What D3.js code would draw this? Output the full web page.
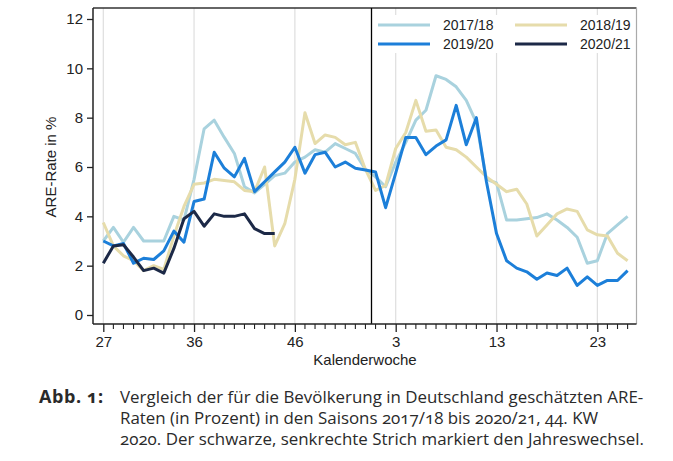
<!DOCTYPE html>
<html><head><meta charset="utf-8">
<script src="https://cdn.jsdelivr.net/npm/d3@7"></script>
<style>
html,body{margin:0;padding:0;background:#fff;}
svg{display:block;}
</style></head>
<body>
<svg id="chart" width="673" height="461"></svg>
<script>
// weeks of the season (index order)
const weeks = [27,28,29,30,31,32,33,34,35,36,37,38,39,40,41,42,43,44,45,46,47,48,49,50,51,52,53,
               1,2,3,4,5,6,7,8,9,10,11,12,13,14,15,16,17,18,19,20,21,22,23,24,25,26];
const tickWeeks = [27,36,46,3,13,23];
const yTicks = [0,2,4,6,8,10,12];
const seriesNames = ["2017/18","2018/19","2019/20","2020/21"];
const seriesColors = ["#a9d2de","#e6dcab","#1c7fd9","#1c2947"];

const s1718 = [3.0,3.55,2.95,3.55,3.0,3.0,3.0,4.0,3.85,5.5,7.55,7.9,7.2,6.55,5.2,4.95,5.3,5.65,5.75,6.2,6.4,6.7,6.6,6.95,6.75,6.55,5.9,
               5.6,5.2,6.2,7.0,7.9,8.3,9.7,9.55,9.25,8.7,7.8,5.5,5.35,3.85,3.85,3.9,3.95,4.1,3.85,3.55,3.15,2.1,2.2,3.3,3.65,4.0];
const s1819 = [3.75,2.8,2.4,2.2,1.8,2.0,1.85,3.2,4.4,5.3,5.35,5.5,5.45,5.4,5.05,5.0,6.0,2.8,3.7,5.5,8.2,6.95,7.3,7.2,6.9,7.0,5.9,
               5.05,5.25,6.75,7.4,8.7,7.45,7.5,6.8,6.7,6.4,6.0,5.6,5.3,5.0,5.1,4.5,3.2,3.65,4.1,4.3,4.2,3.45,3.25,3.2,2.5,2.2];
const s1920 = [3.0,2.8,2.9,2.1,2.3,2.25,2.6,3.4,2.95,4.6,4.7,6.6,5.95,5.6,6.35,5.0,5.4,5.8,6.2,6.8,5.75,6.5,6.6,6.0,6.2,5.95,5.88,
               5.8,4.35,5.75,7.2,7.2,6.5,6.85,7.1,8.5,6.9,8.0,5.4,3.3,2.2,1.9,1.75,1.45,1.7,1.6,1.9,1.2,1.55,1.2,1.4,1.4,1.8];
const s2021 = [2.1,2.8,2.85,2.35,1.8,1.9,1.7,2.7,3.9,4.2,3.6,4.1,4.0,4.0,4.1,3.5,3.3,3.3];
const yearChangeIndex = 26.6;

const captionLabel = "Abb. 1:";
const captionLines = [
  "Vergleich der für die Bevölkerung in Deutschland geschätzten ARE-",
  "Raten (in Prozent) in den Saisons 2017/18 bis 2020/21, 44. KW",
  "2020. Der schwarze, senkrechte Strich markiert den Jahreswechsel."
];

const svg = d3.select("#chart");
const font = "Liberation Sans, Arial, sans-serif";
const frame = {left:93, right:636.5, top:8, bottom:324};

const x = d3.scaleLinear().domain([0, weeks.length-1]).range([103.3, 627.6]);
const y = d3.scaleLinear().domain([0,12]).range([315, 19]);

let lastIdx = -1;
const majorIdx = tickWeeks.map(w => { const i = weeks.indexOf(w, lastIdx+1); lastIdx = i; return i; });

// gridlines at major ticks
svg.append("g").selectAll("line").data(majorIdx).join("line")
  .attr("x1", d=>x(d)).attr("x2", d=>x(d))
  .attr("y1", frame.top).attr("y2", frame.bottom)
  .attr("stroke", "#dedede").attr("stroke-width", 1.2);

// frame (top & right)
svg.append("line").attr("x1", frame.left).attr("x2", frame.right).attr("y1", frame.top).attr("y2", frame.top)
  .attr("stroke", "#333").attr("stroke-width", 1.3);
svg.append("line").attr("x1", frame.right).attr("x2", frame.right).attr("y1", frame.top).attr("y2", frame.bottom)
  .attr("stroke", "#aaa").attr("stroke-width", 1.2);

// legend background
const legendG = svg.append("g");
legendG.append("rect").attr("x", 374).attr("y", 15).attr("width", 258).attr("height", 38).attr("fill", "#fff");

// lines
const line = d3.line().x((d,i)=>x(i)).y(d=>y(d)).curve(d3.curveLinear);
const allSeries = [s1718, s1819, s1920, s2021];
svg.append("g").selectAll("path").data(allSeries).join("path")
  .attr("d", d=>line(d)).attr("fill","none")
  .attr("stroke", (d,i)=>seriesColors[i]).attr("stroke-width", 3)
  .attr("stroke-linejoin","round").attr("stroke-linecap","butt");

// year-change line
svg.append("line").attr("x1", x(yearChangeIndex)).attr("x2", x(yearChangeIndex))
  .attr("y1", frame.top).attr("y2", frame.bottom).attr("stroke", "#000").attr("stroke-width", 1.3);

// legend entries
const legPos = [[378,25],[515,25],[378,44],[515,44]];
seriesNames.forEach((n,i)=>{
  const [lx,ly] = legPos[i];
  legendG.append("line").attr("x1", lx).attr("x2", lx+52).attr("y1", ly).attr("y2", ly)
    .attr("stroke", seriesColors[i]).attr("stroke-width", 3.2);
  legendG.append("text").attr("x", lx+65).attr("y", ly+5).text(n)
    .attr("font-family", font).attr("font-size", 14).attr("fill", "#222");
});
svg.node().appendChild(legendG.node());

// x axis
const xAxis = d3.axisBottom(x).tickValues(majorIdx).tickFormat(d=>weeks[d]).tickSize(8).tickSizeOuter(0);
const gx = svg.append("g").attr("transform", `translate(0,${frame.bottom})`).call(xAxis);
gx.select(".domain").attr("d", `M${frame.left},0H${frame.right}`).attr("stroke","#222").attr("stroke-width",1.5);
gx.selectAll(".tick line").attr("stroke","#222").attr("stroke-width",1.3);
gx.selectAll(".tick text").attr("font-family", font).attr("font-size", 15).attr("fill","#222")
  .attr("y", 12.5).attr("dy","0.71em");
// minor ticks every week
const minorIdx = d3.range(weeks.length).filter(i=>!majorIdx.includes(i));
gx.append("g").selectAll("line").data(minorIdx).join("line")
  .attr("x1", d=>x(d)).attr("x2", d=>x(d)).attr("y1",0).attr("y2",5)
  .attr("stroke","#222").attr("stroke-width",1.1);

// y axis
const yAxis = d3.axisLeft(y).tickValues(yTicks).tickSize(6).tickSizeOuter(0).tickPadding(4);
const gy = svg.append("g").attr("transform", `translate(${frame.left},0)`).call(yAxis);
gy.select(".domain").attr("d", `M0,${frame.top}V${frame.bottom}`).attr("stroke","#222").attr("stroke-width",1.5);
gy.selectAll(".tick line").attr("stroke","#222").attr("stroke-width",1.3);
gy.selectAll(".tick text").attr("font-family", font).attr("font-size", 15).attr("fill","#222");

// axis titles
svg.append("text").attr("x", 365).attr("y", 365).attr("text-anchor","middle")
  .attr("font-family", font).attr("font-size", 15).attr("fill","#222").text("Kalenderwoche");
svg.append("text").attr("transform","translate(56,167) rotate(-90)").attr("text-anchor","middle")
  .attr("font-family", font).attr("font-size", 15).attr("fill","#222").text("ARE-Rate in %");

// caption
const capFont = "'Open Sans', 'Noto Sans', sans-serif";
svg.append("text").attr("x", 39).attr("y", 403).attr("font-family", capFont).attr("font-size", 18)
  .attr("font-weight", 700).attr("letter-spacing", 0.6).attr("fill","#2a2a2a")
  .style("font-variant-numeric","oldstyle-nums").text(captionLabel);
captionLines.forEach((t,i)=>{
  svg.append("text").attr("x", 120).attr("y", 403 + i*21).attr("font-family", capFont).attr("font-size", 16.9)
    .attr("fill","#2a2a2a").style("font-variant-numeric","oldstyle-nums").text(t);
});
</script>
</body></html>
